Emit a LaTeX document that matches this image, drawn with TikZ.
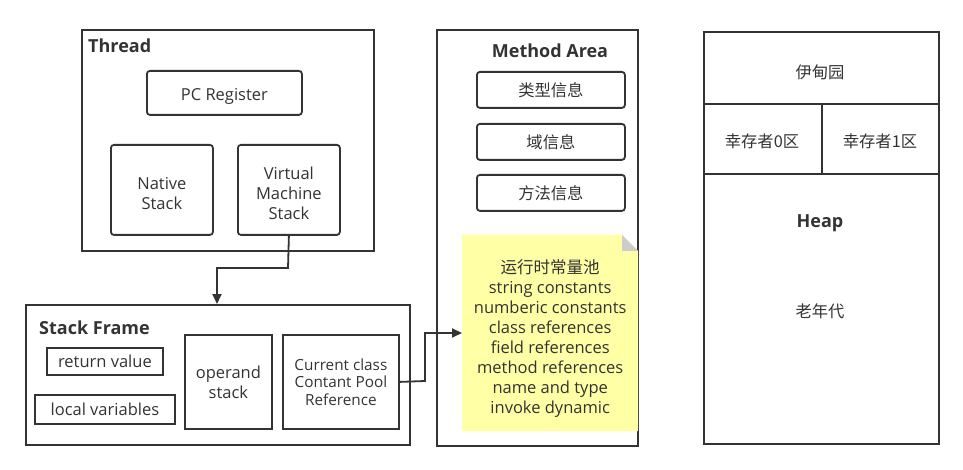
\documentclass[tikz,border=0pt]{standalone}
\usepackage{fontspec}
\setmainfont{Open Sans}
\newfontfamily\cjk{Noto Sans CJK SC}
\usetikzlibrary{arrows.meta}
\definecolor{ink}{HTML}{333333}
\definecolor{noteyellow}{HTML}{FFFFA6}
\definecolor{foldgray}{HTML}{CCCCCC}
\tikzset{
  x=1pt, y=-1pt,
  every node/.style={text=ink, font=\fontsize{16.5}{20}\selectfont, inner sep=0pt, align=center},
  frame/.style={draw=ink, line width=2pt, anchor=north west},
  rbox/.style={draw=ink, line width=1.8pt, rounded corners=3pt, anchor=north west},
  sbox/.style={draw=ink, line width=1.8pt, anchor=north west},
  lowtext/.style={label={[text=ink, align=center, font=\fontsize{16.5}{20}\selectfont, yshift=-3.5pt]center:#1}},
  title/.style={font=\fontsize{18}{20}\selectfont\bfseries},
  conn/.style={draw=ink, line width=1.8pt, -{Triangle[length=10pt,width=9pt]}},
  cn/.style={font=\cjk\fontsize{16.3}{20}\selectfont},
}
\begin{document}
\begin{tikzpicture}
\useasboundingbox (0,0) rectangle (963,470);
% Thread
\node[frame, minimum width=292pt, minimum height=221pt] (thread) at (81,29) {};
\node[title, anchor=west] (threadT) at (88,46) {Thread};
\node[rbox, minimum width=155pt, minimum height=44pt, lowtext={PC Register}] (pc) at (146,70) {};
\node[rbox, minimum width=102pt, minimum height=90pt, lowtext={Native\\Stack}] (native) at (110,144) {};
\node[rbox, minimum width=102pt, minimum height=90pt, lowtext={Virtual\\Machine\\Stack}] (vms) at (237,144) {};
% Stack frame
\node[frame, minimum width=384pt, minimum height=140pt] (sf) at (25,304) {};
\node[title, anchor=west] (sfT) at (39,328) {Stack Frame};
\node[sbox, minimum width=116pt, minimum height=27pt] (ret) at (46,347) {return value};
\node[sbox, minimum width=140pt, minimum height=29pt] (loc) at (34,394) {local variables};
\node[sbox, minimum width=87pt, minimum height=94pt] (op) at (184,334) {operand\\stack};
\node[sbox, minimum width=116pt, minimum height=94pt, font=\fontsize{15.3}{17.5}\selectfont] (ccp) at (282,334) {Current class\\Contant Pool\\Reference};
% Method area
\node[frame, minimum width=201pt, minimum height=416pt] (ma) at (436,29) {};
\node[title] (maT) at (550,51) {Method Area};
\node[rbox, cn, minimum width=148pt, minimum height=36pt] (t1) at (476,71) {类型信息};
\node[rbox, cn, minimum width=148pt, minimum height=36pt] (t2) at (476,123) {域信息};
\node[rbox, cn, minimum width=148pt, minimum height=36pt] (t3) at (476,174) {方法信息};
\fill[noteyellow] (462,235) -- (622,235) -- (638,251) -- (638,431) -- (462,431) -- cycle;
\fill[foldgray] (622,235) -- (622,251) -- (638,251) -- cycle;
\node[anchor=north west, minimum width=176pt, minimum height=196pt] (note) at (462,240)
  {{\cjk 运行时常量池}\\string constants\\numberic constants\\class references\\field references\\method references\\name and type\\invoke dynamic};
% Heap
\node[frame, minimum width=235pt, minimum height=412pt] (heap) at (703,31) {};
\draw[ink, line width=1.8pt] (703,104) -- (938,104);
\draw[ink, line width=1.8pt] (703,174) -- (938,174);
\draw[ink, line width=1.8pt] (822,104) -- (822,174);
\node[cn] (eden) at (820,72) {伊甸园};
\node[cn] (s0) at (762,141) {幸存者0区};
\node[cn] (s1) at (880,141) {幸存者1区};
\node[title] (heapT) at (820,223) {Heap};
\node[cn] (old) at (820,311) {老年代};
% connectors
\draw[conn] (vms.south) -- (288,268) -| (sf.north -| 217,0);
\draw[conn] (ccp.east) -- (425,381) |- (note.west |- 0,333);
\end{tikzpicture}
\end{document}
